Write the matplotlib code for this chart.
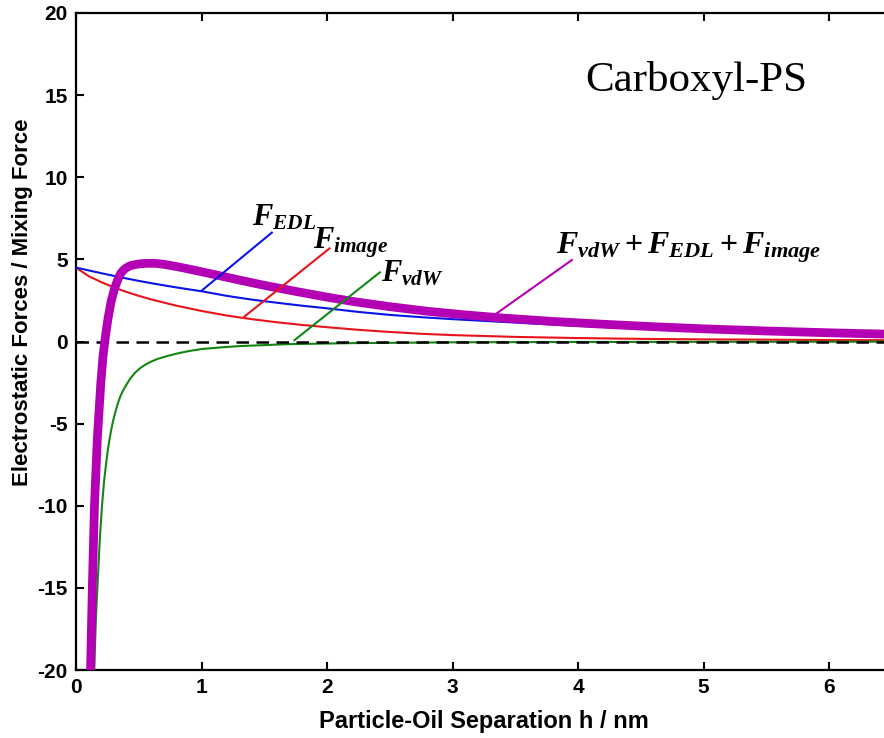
import matplotlib
matplotlib.use('Agg')
import matplotlib.pyplot as plt

# fonts: sans bold for axes, Times-like bold italic for the force labels
plt.rcParams['font.family'] = ['Liberation Sans', 'DejaVu Sans']
plt.rcParams['axes.unicode_minus'] = False
plt.rcParams['mathtext.fontset'] = 'custom'
plt.rcParams['mathtext.it'] = 'Liberation Serif:bold:italic'
plt.rcParams['mathtext.rm'] = 'Liberation Serif:bold'
plt.rcParams['mathtext.bf'] = 'Liberation Serif:bold'

# separations (nm) for EDL and image force curves
h_ref = [0.0, 0.1, 0.2, 0.3, 0.4, 0.5, 0.6, 0.8, 1.0, 1.2, 1.4, 1.6, 1.8, 2.0,
         2.25, 2.5, 2.75, 3.0, 3.5, 4.0, 4.5, 5.0, 5.5, 6.0, 6.5]
f_edl = [4.50, 4.33, 4.16, 4.00, 3.84, 3.69, 3.55, 3.29, 3.06, 2.78, 2.55, 2.36,
         2.18, 2.02, 1.80, 1.62, 1.48, 1.36, 1.15, 0.95, 0.79, 0.64, 0.53, 0.44, 0.36]
f_image = [4.50, 3.98, 3.62, 3.30, 3.02, 2.78, 2.56, 2.18, 1.86, 1.58, 1.36, 1.17,
           1.01, 0.87, 0.71, 0.58, 0.47, 0.39, 0.28, 0.21, 0.16, 0.13, 0.11, 0.09, 0.08]

# van der Waals
h_vdw = [0.14, 0.15, 0.16, 0.175, 0.19, 0.207, 0.225, 0.25, 0.265, 0.28, 0.295, 0.31,
         0.33, 0.35, 0.375, 0.40, 0.43, 0.47, 0.51, 0.55, 0.60, 0.65, 0.72, 0.8, 0.9,
         1.0, 1.15, 1.3, 1.7, 2.2, 3.0, 4.0, 5.0, 6.5]
f_vdw = [-21.5, -18.8, -16.6, -14.3, -12.0, -10.0, -8.4, -6.8, -6.05, -5.4, -4.85, -4.4,
         -3.85, -3.4, -2.98, -2.65, -2.28, -1.90, -1.63, -1.42, -1.22, -1.06, -0.90, -0.74,
         -0.58, -0.46, -0.36, -0.28, -0.16, -0.10, -0.05, -0.03, -0.02, -0.01]

# total force
h_tot = [0.108, 0.116, 0.13, 0.147, 0.17, 0.197, 0.215, 0.235, 0.255, 0.28, 0.308, 0.32,
         0.335, 0.348, 0.361, 0.38, 0.40, 0.42, 0.44, 0.47, 0.50, 0.56, 0.63, 0.70, 0.81,
         0.95, 1.10, 1.29, 1.50, 1.75, 2.00, 2.22, 2.50, 2.80, 3.10, 3.40, 3.80, 4.20,
         4.60, 5.00, 5.50, 6.00, 6.50]
f_tot = [-23.0, -20.0, -15.0, -10.0, -5.9, -2.6, -0.9, 0.35, 1.4, 2.45, 3.25, 3.5,
         3.8, 4.02, 4.2, 4.36, 4.48, 4.57, 4.63, 4.68, 4.72, 4.76, 4.76, 4.70, 4.55,
         4.33, 4.08, 3.76, 3.42, 3.05, 2.70, 2.42, 2.12, 1.84, 1.62, 1.43, 1.22, 1.05,
         0.90, 0.77, 0.64, 0.53, 0.44]

xticks = [0, 1, 2, 3, 4, 5, 6]
yticks = [-20, -15, -10, -5, 0, 5, 10, 15, 20]

fig = plt.figure(figsize=(8.84, 7.38), dpi=100)
# right edge of the axes runs past the figure, like the cropped original
ax = fig.add_axes([76 / 884, 68 / 738, 816 / 884, 657 / 738])

ax.axhline(0, color='black', lw=1.8, dashes=(5, 3), zorder=4)
ax.plot(h_ref, f_image, color='#e8141c', lw=1.5, zorder=3)
ax.plot(h_ref, f_edl, color='#0a14e6', lw=1.5, zorder=3)
ax.plot(h_vdw, f_vdw, color='#138613', lw=1.5, zorder=3)
ax.plot(h_tot, f_tot, color='#b400b4', lw=6.3, zorder=5, solid_capstyle='butt')

# leader lines and labels
ax.plot([1.00, 1.56], [3.09, 6.63], color='#0a14e6', lw=1.5, zorder=6)
ax.plot([1.34, 2.02], [1.51, 5.67], color='#e8141c', lw=1.5, zorder=6)
ax.plot([1.74, 2.42], [0.08, 4.21], color='#138613', lw=1.5, zorder=6)
ax.plot([3.33, 3.95], [1.60, 4.96], color='#b400b4', lw=1.5, zorder=6)

lab = dict(fontsize=22, ha='left', va='baseline', zorder=7)
ax.text(1.40, 7.07, r'$F_{EDL}$', **lab)
ax.text(1.89, 5.67, r'$F_{image}$', **lab)
ax.text(2.43, 3.66, r'$F_{vdW}$', **lab)
ax.text(3.82, 5.37, r'$F_{vdW} + F_{EDL} + F_{image}$', fontsize=23,
        ha='left', va='baseline', zorder=7)

ax.text(4.06, 15.24, 'Carboxyl-PS', fontsize=31, family='Liberation Serif',
        ha='left', va='baseline')

ax.set_xlim(0, 6.5)
ax.set_ylim(-20, 20)
ax.set_xticks(xticks)
ax.set_yticks(yticks)
ax.tick_params(direction='in', length=6, width=1.5, top=True, right=True,
               labelsize=15, pad=6)
for t in ax.get_xticklabels() + ax.get_yticklabels():
    t.set_fontweight('bold')
for s in ax.spines.values():
    s.set_linewidth(1.6)

ax.set_xlabel('Particle-Oil Separation h / nm', fontsize=17, fontweight='bold', labelpad=9)
ax.set_ylabel('Electrostatic Forces / Mixing Force', fontsize=16, fontweight='bold')
ax.yaxis.set_label_coords(-0.053, 0.56)

fig.savefig('out.png', dpi=100)
